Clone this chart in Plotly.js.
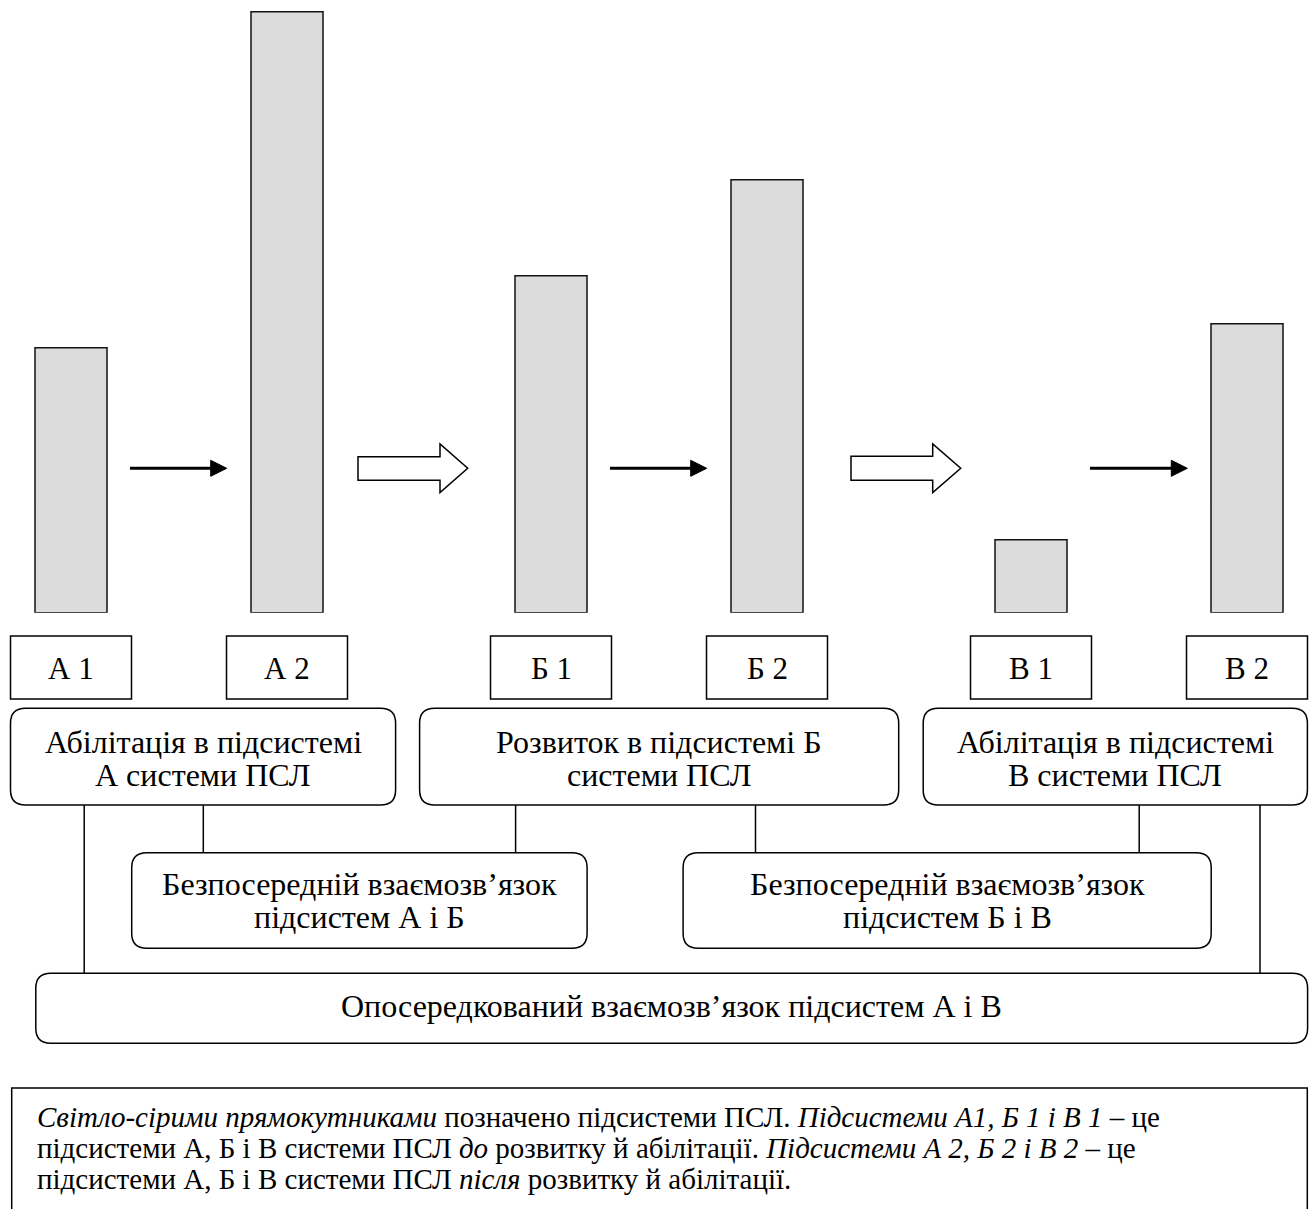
<!DOCTYPE html>
<html>
<head>
<meta charset="utf-8">
<script src="https://cdn.plot.ly/plotly-3.0.1.min.js"></script>
<style>html,body{margin:0;padding:0;background:#fff;}#chart{width:1316px;height:1209px;}</style>
</head>
<body>
<div id="chart"></div>
<script>
// ---- data ----
var subsystems = ["А 1", "А 2", "Б 1", "Б 2", "В 1", "В 2"];
var groupIndex = [0, 0, 1, 1, 2, 2];
var stageIndex = [0, 1, 0, 1, 0, 1];
var levels = [265, 601, 337, 433, 73, 289];
var topBoxLines = [
  ["Абілітація в підсистемі", "А системи ПСЛ"],
  ["Розвиток в підсистемі Б", "системи ПСЛ"],
  ["Абілітація в підсистемі", "В системи ПСЛ"]
];
var linkBoxLines = [
  ["Безпосередній взаємозв’язок", "підсистем А і Б"],
  ["Безпосередній взаємозв’язок", "підсистем Б і В"]
];
var bottomBoxText = "Опосередкований взаємозв’язок підсистем А і В";
var captionLines = [
  "<i>Світло-сірими прямокутниками</i> позначено підсистеми ПСЛ. <i>Підсистеми А1, Б 1 і В 1</i> – це",
  "підсистеми А, Б і В системи ПСЛ <i>до</i> розвитку й абілітації. <i>Підсистеми А 2, Б 2 і В 2</i> – це",
  "підсистеми А, Б і В системи ПСЛ <i>після</i> розвитку й абілітації."
];

// ---- layout helpers ----
var W = 1316, H = 1209;
var GROUP_GAP = 264 / 216 - 1; // extra spacing between groups (in bar-step units)
var positions = subsystems.map(function (s, i) { return groupIndex[i] * (2 + GROUP_GAP) + stageIndex[i]; });
function px(x) { return x / W; }
function py(y) { return 1 - y / H; }
var FONT = "'Liberation Serif', 'Times New Roman', Times, serif";
var BASE = 612.7;
var FS = 32;
var LABEL_FS = 31;
var CAP_FS = 29;

var shapes = [];
var annotations = [];

function roundRect(x0, y0, x1, y1, r) {
  var p = function (x, y) { return px(x) + "," + py(y); };
  return "M" + p(x0 + r, y0) + " L" + p(x1 - r, y0) + " Q" + p(x1, y0) + " " + p(x1, y0 + r) +
    " L" + p(x1, y1 - r) + " Q" + p(x1, y1) + " " + p(x1 - r, y1) +
    " L" + p(x0 + r, y1) + " Q" + p(x0, y1) + " " + p(x0, y1 - r) +
    " L" + p(x0, y0 + r) + " Q" + p(x0, y0) + " " + p(x0 + r, y0) + " Z";
}
function addRoundBox(x0, y0, x1, y1, lines, fs, lh, dy) {
  shapes.push({ type: "path", xref: "paper", yref: "paper", path: roundRect(x0, y0, x1, y1, 15),
    line: { color: "#000", width: 1.5 }, fillcolor: "rgba(0,0,0,0)" });
  var cy = (y0 + y1) / 2 + (dy || 0);
  var n = lines.length;
  lines.forEach(function (t, i) {
    annotations.push({ xref: "paper", yref: "paper", x: px((x0 + x1) / 2), y: py(cy + (i - (n - 1) / 2) * lh),
      text: t, showarrow: false, xanchor: "center", yanchor: "middle",
      font: { family: FONT, size: fs, color: "#000" } });
  });
}
function vline(x, y0, y1) {
  shapes.push({ type: "line", xref: "paper", yref: "paper", x0: px(x), x1: px(x), y0: py(y0), y1: py(y1),
    line: { color: "#000", width: 1.5 } });
}
function solidArrow(x0, x1, y) {
  var hl = 16, hh = 8;
  shapes.push({ type: "line", xref: "paper", yref: "paper", x0: px(x0), x1: px(x1 - hl + 2), y0: py(y), y1: py(y),
    line: { color: "#000", width: 3 } });
  shapes.push({ type: "path", xref: "paper", yref: "paper",
    path: "M" + px(x1 - hl) + "," + py(y - hh) + " L" + px(x1) + "," + py(y) + " L" + px(x1 - hl) + "," + py(y + hh) + " Z",
    fillcolor: "#000", line: { color: "#000", width: 1 } });
}
function hollowArrow(x0, xh, x1, yb0, yb1, yh0, yh1) {
  var ym = (yh0 + yh1) / 2;
  var pts = [[x0, yb0], [xh, yb0], [xh, yh0], [x1, ym], [xh, yh1], [xh, yb1], [x0, yb1]];
  var path = pts.map(function (p, i) { return (i ? "L" : "M") + px(p[0]) + "," + py(p[1]); }).join(" ") + " Z";
  shapes.push({ type: "path", xref: "paper", yref: "paper", path: path, fillcolor: "#fff",
    line: { color: "#000", width: 1.5 } });
}

// label boxes under bars (tied to bar positions)
var LBW = 121 / 216 / 2;
positions.forEach(function (x, i) {
  shapes.push({ type: "rect", xref: "x", yref: "paper", x0: x - LBW, x1: x + LBW, y0: py(636), y1: py(699),
    line: { color: "#000", width: 1.5 }, fillcolor: "rgba(0,0,0,0)" });
  annotations.push({ xref: "x", yref: "paper", x: x, y: py(668), text: subsystems[i], showarrow: false,
    xanchor: "center", yanchor: "middle", font: { family: FONT, size: LABEL_FS, color: "#000" } });
});

// arrows
solidArrow(130, 226.7, 468.3);
solidArrow(610, 706.7, 468.3);
solidArrow(1090, 1187.3, 468.3);
hollowArrow(358, 440, 467.7, 456.7, 480.3, 444, 492.5);
hollowArrow(851, 932.7, 960.7, 456.2, 480.3, 444, 492.5);

// boxes
var topX = [[10.5, 395.6], [419.6, 898.7], [923.2, 1307.4]];
topBoxLines.forEach(function (l, i) { addRoundBox(topX[i][0], 708.3, topX[i][1], 805, l, FS, 33, 2); });
var linkX = [[131.7, 587.1], [683.1, 1211.2]];
linkBoxLines.forEach(function (l, i) { addRoundBox(linkX[i][0], 852.7, linkX[i][1], 948.3, l, FS, 33, 0); });
addRoundBox(35.8, 973.3, 1307.6, 1043.3, [bottomBoxText], FS, 33, -2);

// connectors
vline(84.2, 805, 973.3);
vline(203.3, 805, 852.7);
vline(515.6, 805, 852.7);
vline(755.5, 805, 852.7);
vline(1139.2, 805, 852.7);
vline(1260, 805, 973.3);

// caption frame (open at the bottom)
shapes.push({ type: "path", xref: "paper", yref: "paper",
  path: "M" + px(11.7) + "," + py(1220) + " L" + px(11.7) + "," + py(1088) + " L" + px(1307.3) + "," + py(1088) + " L" + px(1307.3) + "," + py(1220),
  line: { color: "#000", width: 1.5 } });
captionLines.forEach(function (t, i) {
  annotations.push({ xref: "paper", yref: "paper", x: px(35), y: py(1117 + i * 31), text: t, showarrow: false,
    xanchor: "left", yanchor: "middle", font: { family: FONT, size: CAP_FS, color: "#000" } });
});

var trace = {
  type: "bar",
  x: positions,
  y: levels,
  width: 72 / 216,
  marker: { color: "#dcdcdc", line: { color: "#111", width: 1.5 } },
  hoverinfo: "skip"
};

var layout = {
  width: W, height: H,
  margin: { l: 0, r: 0, t: 0, b: 0 },
  paper_bgcolor: "#fff", plot_bgcolor: "#fff",
  showlegend: false,
  font: { family: FONT, color: "#000" },
  xaxis: { range: [-71 / 216, (W - 71) / 216], visible: false, fixedrange: true },
  yaxis: { domain: [1 - BASE / H, 1], range: [0, BASE], visible: false, fixedrange: true },
  shapes: shapes,
  annotations: annotations
};

Plotly.newPlot("chart", [trace], layout, { staticPlot: true, displayModeBar: false });
</script>
</body>
</html>
